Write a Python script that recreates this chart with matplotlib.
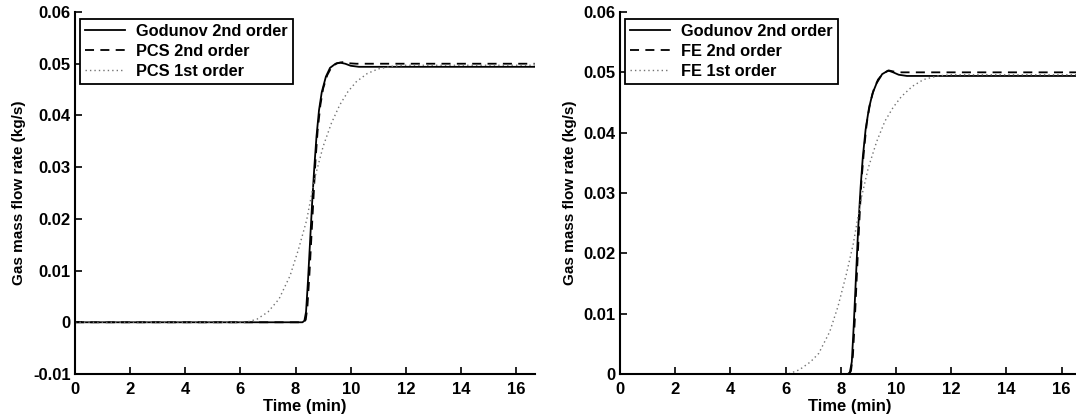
import numpy as np
import matplotlib.pyplot as plt
from matplotlib.ticker import FuncFormatter

plt.rcParams["font.family"] = ["Liberation Sans", "DejaVu Sans"]
plt.rcParams["font.weight"] = "bold"
plt.rcParams["font.size"] = 12

# ---- left panel data (time in min, flow in kg/s) ----
t_god_l = [0, 8.25, 8.32, 8.38, 8.45, 8.52, 8.60, 8.68, 8.76, 8.85, 8.95, 9.10, 9.25, 9.45, 9.62, 9.80, 10.0, 10.3, 16.67]
q_god_l = [0, 0, 0.0003, 0.002, 0.008, 0.015, 0.023, 0.030, 0.036, 0.041, 0.0445, 0.0475, 0.0492, 0.0500, 0.0502, 0.0500, 0.0496, 0.0494, 0.0494]

t_pcs2 = [0, 8.30, 8.37, 8.43, 8.50, 8.57, 8.65, 8.72, 8.80, 8.90, 9.00, 9.15, 9.30, 9.50, 9.70, 9.90, 10.2, 16.67]
q_pcs2 = [0, 0, 0.0005, 0.003, 0.009, 0.016, 0.024, 0.031, 0.037, 0.042, 0.0452, 0.0478, 0.0493, 0.0501, 0.0503, 0.0501, 0.0500, 0.0500]

t_pcs1 = [0, 6.2, 6.6, 7.0, 7.4, 7.8, 8.1, 8.4, 8.7, 9.0, 9.3, 9.6, 9.9, 10.2, 10.6, 11.0, 11.5, 12.0, 16.67]
q_pcs1 = [0, 0, 0.0006, 0.0020, 0.0045, 0.0090, 0.0140, 0.0197, 0.0280, 0.0340, 0.0385, 0.0420, 0.0446, 0.0465, 0.0481, 0.0490, 0.0495, 0.0497, 0.0497]

# ---- right panel data ----
t_god_r = [0, 8.26, 8.33, 8.40, 8.47, 8.55, 8.63, 8.72, 8.80, 8.90, 9.02, 9.15, 9.30, 9.50, 9.72, 9.90, 10.1, 10.4, 16.67]
q_god_r = [0, 0, 0.0003, 0.002, 0.008, 0.016, 0.024, 0.031, 0.036, 0.0405, 0.044, 0.0465, 0.0482, 0.0497, 0.0503, 0.0500, 0.0496, 0.0494, 0.0494]

t_fe2 = [0, 8.30, 8.37, 8.44, 8.51, 8.59, 8.67, 8.75, 8.84, 8.94, 9.06, 9.20, 9.35, 9.55, 9.75, 9.95, 10.2, 16.67]
q_fe2 = [0, 0, 0.0005, 0.003, 0.009, 0.017, 0.025, 0.032, 0.037, 0.0415, 0.0448, 0.0472, 0.0488, 0.0499, 0.0503, 0.0501, 0.0500, 0.0500]

t_fe1 = [0, 6.1, 6.5, 6.9, 7.2, 7.6, 7.9, 8.2, 8.45, 8.75, 9.0, 9.3, 9.6, 9.9, 10.2, 10.6, 11.0, 11.5, 12.0, 16.67]
q_fe1 = [0, 0, 0.0007, 0.0020, 0.0034, 0.0070, 0.0112, 0.0165, 0.0215, 0.0293, 0.0342, 0.0385, 0.0419, 0.0442, 0.0460, 0.0477, 0.0488, 0.0494, 0.0496, 0.0496]

fig = plt.figure(figsize=(10.76, 4.18), dpi=100)
ax1 = fig.add_axes([75 / 1076, 44 / 418, 459.6 / 1076, 362 / 418])
ax2 = fig.add_axes([620 / 1076, 44 / 418, 460 / 1076, 362 / 418])


def yfmt(v, pos):
    if abs(v) < 1e-9:
        return "0"
    return "%.2f" % v


def draw(ax, tg, qg, t2, q2, t1, q1, lab2, lab1, ymin):
    ax.plot(tg, qg, color="black", lw=1.3, label="Godunov 2nd order")
    ax.plot(t2, q2, color="black", lw=1.3, dashes=(5, 3.5), label=lab2)
    ax.plot(t1, q1, color="0.45", lw=1.0, dashes=(1, 2.2), label=lab1)
    ax.set_xlim(0, 16.67)
    ax.set_ylim(ymin, 0.06)
    ax.set_xticks(range(0, 17, 2))
    ax.set_yticks(np.arange(ymin, 0.0601, 0.01))
    ax.yaxis.set_major_formatter(FuncFormatter(yfmt))
    ax.spines["top"].set_visible(False)
    ax.spines["right"].set_visible(False)
    ax.spines["left"].set_linewidth(1.5)
    ax.spines["bottom"].set_linewidth(1.5)
    ax.tick_params(direction="in", length=5, width=1.2, labelsize=12, pad=3)
    ax.tick_params(axis="x", pad=6)
    ax.set_xlabel("Time (min)", fontweight="bold", fontsize=12, labelpad=1)
    ax.set_ylabel("Gas mass flow rate (kg/s)", fontweight="bold", fontsize=11, labelpad=5)
    leg = ax.legend(loc="upper left", bbox_to_anchor=(0.008, 0.985), fancybox=False,
                    edgecolor="black", framealpha=1, handlelength=2.4,
                    borderpad=0.3, labelspacing=0.3, handletextpad=0.7,
                    borderaxespad=0.1, prop={"weight": "bold", "size": 11.8})
    leg.get_frame().set_linewidth(1.3)


draw(ax1, t_god_l, q_god_l, t_pcs2, q_pcs2, t_pcs1, q_pcs1,
     "PCS 2nd order", "PCS 1st order", -0.01)
draw(ax2, t_god_r, q_god_r, t_fe2, q_fe2, t_fe1, q_fe1,
     "FE 2nd order", "FE 1st order", 0.0)

plt.savefig("out.png", dpi=100)
